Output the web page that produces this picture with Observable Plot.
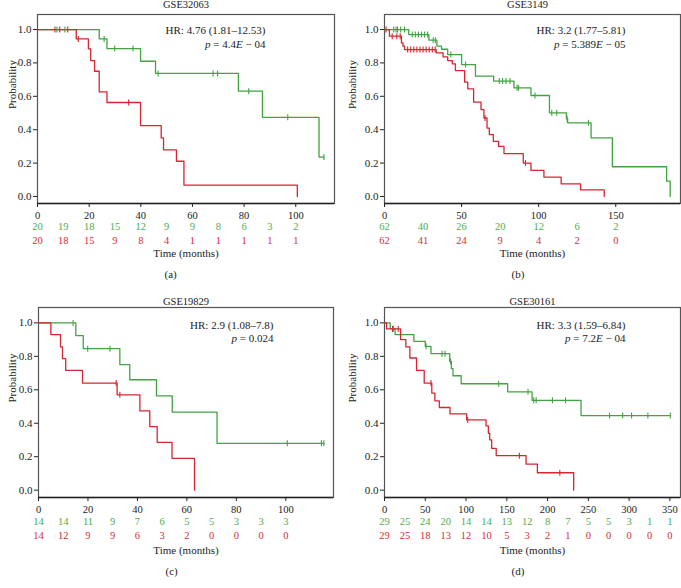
<!DOCTYPE html>
<html><head><meta charset="utf-8">
<script src="https://cdn.jsdelivr.net/npm/d3@7"></script>
<script src="https://cdn.jsdelivr.net/npm/@observablehq/plot@0.6"></script>
<style>
body{margin:0;background:#fff;}
#fig{position:relative;width:681px;height:588px;overflow:hidden;background:#fff;font-family:"Liberation Serif",serif;}
.panel{position:absolute;}
.panel svg{overflow:visible;font-family:"Liberation Serif",serif;}
.panel svg text{font-family:"Liberation Serif",serif;}
</style></head><body><div id="fig"></div>
<script>
const GREEN = "#41a441", RED = "#d7262f", GREEN_TXT = "#4cae4c", RED_TXT = "#db2a35";
const FONT = "'Liberation Serif', serif";

// ---- Panel (a) GSE32063 ----
const aTitle = "GSE32063";
const aHR = "HR: 4.76 (1.81–12.53)";
const aP = "p = 4.4E − 04";
const aTicks = [0, 20, 40, 60, 80, 100];
const aRiskAt = [0, 10, 20, 30, 40, 50, 60, 70, 80, 90, 100];
const aRiskGreen = [20, 19, 18, 15, 12, 9, 9, 8, 6, 3, 2];
const aRiskRed = [20, 18, 15, 9, 8, 4, 1, 1, 1, 1, 1];
const aGreenT = [0, 23.9, 26.9, 39.9, 45.7, 77.8, 87.1, 109, 110.9];
const aGreenS = [1, 0.944, 0.886, 0.81, 0.737, 0.631, 0.474, 0.236, 0.236];
const aGreenC = [7.5, 10.6, 25.8, 29.9, 37, 46.7, 68, 69.7, 81.8, 96.9, 110.9];
const aRedT = [0, 15, 19.7, 20.6, 22.1, 23.9, 26.9, 39.9, 47.9, 48.8, 53.8, 56.7, 100.6];
const aRedS = [1, 0.944, 0.884, 0.814, 0.75, 0.627, 0.563, 0.425, 0.351, 0.279, 0.211, 0.068, 0];
const aRedC = [6.75, 8.6, 11.7, 15.8, 35.3];

// ---- Panel (b) GSE3149 ----
const bTitle = "GSE3149";
const bHR = "HR: 3.2 (1.77–5.81)";
const bP = "p = 5.389E − 05";
const bTicks = [0, 50, 100, 150];
const bRiskAt = [0, 25, 50, 75, 100, 125, 150];
const bRiskGreen = [62, 40, 26, 20, 12, 6, 2];
const bRiskRed = [62, 41, 24, 9, 4, 2, 0];
const bGreenT = [0, 15.7, 28.8, 34, 37, 41, 50, 59, 70.8, 84, 95, 107, 118, 118.8, 134, 147.8, 183, 185.3];
const bGreenS = [1, 0.97, 0.936, 0.9, 0.882, 0.85, 0.79, 0.721, 0.691, 0.651, 0.605, 0.501, 0.467, 0.441, 0.351, 0.178, 0.092, 0];
const bGreenC = [6, 7.5, 8.5, 10.5, 13, 18, 20, 22, 24, 26, 28, 31.6, 33, 43, 52.6, 74.5, 76.6, 78.8, 81.4, 86, 87, 97.6, 108.5, 111.7, 118.4, 132.3];
const bRedT = [0, 3.2, 11, 12, 13, 33.5, 38, 41, 44, 46, 52, 54, 57.8, 62.6, 64.5, 66.5, 68, 70.6, 74, 77.5, 90, 95, 103.4, 114.6, 127.2, 142.5];
const bRedS = [1, 0.96, 0.92, 0.9, 0.88, 0.86, 0.836, 0.814, 0.794, 0.754, 0.685, 0.645, 0.565, 0.52, 0.47, 0.41, 0.37, 0.33, 0.3, 0.257, 0.2, 0.156, 0.116, 0.076, 0.04, 0];
const bRedC = [1, 5, 8, 10.2, 15, 17, 19, 21, 23, 25, 27, 29, 31, 32.9, 65.2, 91.4];

// ---- Panel (c) GSE19829 ----
const cTitle = "GSE19829";
const cHR = "HR: 2.9 (1.08–7.8)";
const cP = "p = 0.024";
const cTicks = [0, 20, 40, 60, 80, 100];
const cRiskAt = [0, 10, 20, 30, 40, 50, 60, 70, 80, 90, 100];
const cRiskGreen = [14, 14, 11, 9, 7, 6, 5, 5, 3, 3, 3];
const cRiskRed = [14, 12, 9, 9, 6, 3, 2, 0, 0, 0, 0];
const cGreenT = [0, 15.1, 18.1, 32.9, 36.9, 47.7, 54.1, 72.2, 115.4];
const cGreenS = [1, 0.924, 0.846, 0.75, 0.66, 0.564, 0.466, 0.28, 0.28];
const cGreenC = [14, 19.9, 28.9, 100.6, 114.4, 115.4];
const cRedT = [0, 5, 8.9, 9.7, 11, 17.8, 31.8, 41, 45, 48, 54, 63.1];
const cRedS = [1, 0.93, 0.856, 0.786, 0.716, 0.64, 0.57, 0.474, 0.38, 0.286, 0.19, 0];
const cRedC = [31.4, 32.9];

// ---- Panel (d) GSE30161 ----
const dTitle = "GSE30161";
const dHR = "HR: 3.3 (1.59–6.84)";
const dP = "p = 7.2E − 04";
const dTicks = [0, 50, 100, 150, 200, 250, 300, 350];
const dRiskAt = [0, 25, 50, 75, 100, 125, 150, 175, 200, 225, 250, 275, 300, 325, 350];
const dRiskGreen = [29, 25, 24, 20, 14, 14, 13, 12, 8, 7, 5, 5, 3, 1, 1];
const dRiskRed = [29, 25, 18, 13, 12, 10, 5, 3, 2, 1, 0, 0, 0, 0, 0];
const dGreenT = [0, 7, 13, 36, 50, 57, 80, 82, 84, 94, 151, 181, 241, 350.5];
const dGreenS = [1, 0.966, 0.93, 0.89, 0.86, 0.816, 0.77, 0.726, 0.684, 0.636, 0.588, 0.537, 0.446, 0.446];
const dGreenC = [11, 51, 70.6, 74.2, 81, 140, 176, 183, 186, 206, 222, 276, 292, 303, 323, 350.5];
const dRedT = [0, 2.5, 19.7, 26.2, 31.1, 39.3, 48.7, 58, 61.8, 67.2, 80.3, 100.7, 124.5, 127.4, 129, 131.4, 137, 173.6, 187.5, 232];
const dRedS = [1, 0.964, 0.9, 0.856, 0.79, 0.716, 0.64, 0.58, 0.534, 0.494, 0.456, 0.42, 0.384, 0.34, 0.3, 0.25, 0.206, 0.156, 0.104, 0];
const dRedC = [9.9, 16.8, 57, 102, 165.4, 215];

function zip(T, S) { return T.map((t, i) => ({t, s: S[i]})); }
function survAt(t, T, S) { let v = S[0]; for (let i = 0; i < T.length; i++) if (T[i] <= t) v = S[i]; return v; }
function cens(C, T, S) { return C.map(t => ({t, s: survAt(t, T, S)})); }
const vtick = {draw(ctx, size) { const h = Math.sqrt(size / Math.PI); ctx.moveTo(0, -h); ctx.lineTo(0, h); }};

function panel(p) {
  const fs = 11, fr = 10.5;
  const marks = [
    Plot.frame({stroke: "#555", strokeWidth: 1.2}),
    Plot.ruleY([p.yDomain[0]], {stroke: "#222", strokeWidth: 1.6}),
    Plot.axisY({ticks: [0, 0.2, 0.4, 0.6, 0.8, 1.0], tickFormat: d => d.toFixed(1), tickSize: 4, tickPadding: 2, label: null, fontSize: fs, fontFamily: FONT}),
    Plot.axisX({ticks: p.ticks, tickFormat: d => String(d), tickSize: 4, tickPadding: 4, label: null, fontSize: fr, fontFamily: FONT}),
    Plot.line(zip(p.gT, p.gS), {x: "t", y: "s", curve: "step-after", stroke: GREEN, strokeWidth: 1.3}),
    Plot.line(zip(p.rT, p.rS), {x: "t", y: "s", curve: "step-after", stroke: RED, strokeWidth: 1.3}),
    Plot.dot(cens(p.gC, p.gT, p.gS), {x: "t", y: "s", symbol: vtick, r: 3, stroke: GREEN, strokeWidth: 1.1, fill: "none"}),
    Plot.dot(cens(p.rC, p.rT, p.rS), {x: "t", y: "s", symbol: vtick, r: 3, stroke: RED, strokeWidth: 1.1, fill: "none"}),
    Plot.text(p.riskAt, {x: d => d, text: (d, i) => String(p.riskG[i]), frameAnchor: "bottom", dy: p.dyG, fill: GREEN_TXT, fontSize: fr, fontFamily: FONT}),
    Plot.text(p.riskAt, {x: d => d, text: (d, i) => String(p.riskR[i]), frameAnchor: "bottom", dy: p.dyR, fill: RED_TXT, fontSize: fr, fontFamily: FONT}),
    Plot.text(["Time (months)"], {frameAnchor: "bottom", dy: p.dyT, fontSize: fs, fill: "#222", fontFamily: FONT}),
    Plot.text([p.label], {frameAnchor: "bottom-left", dx: 127, dy: p.dyL, fontSize: fs, fill: "#222", fontFamily: FONT}),
    Plot.text([p.title], {frameAnchor: "top", dx: p.titleDx, dy: p.dyTitle, fontSize: 10.5, fill: "#222", fontFamily: FONT}),
    Plot.text(["Probability"], {frameAnchor: "left", rotate: -90, dx: p.dxProb, fontSize: fs, fill: "#222", fontFamily: FONT}),
    Plot.text([p.hr], {frameAnchor: "top-right", dx: p.hrDx, dy: p.hrDy1, fontSize: fs, fill: "#222", fontFamily: FONT}),
    Plot.text([p.p], {frameAnchor: "top-right", dx: p.hrDx, dy: p.hrDy2, fontSize: fs, fill: "#222", fontFamily: FONT})
  ];
  const svg = Plot.plot({
    width: p.width, height: p.height,
    marginLeft: p.ml, marginRight: p.mr, marginTop: p.mt, marginBottom: p.mb,
    x: {domain: [0, p.xMax]},
    y: {domain: p.yDomain},
    style: {fontFamily: FONT, fontSize: "11px", color: "#222", background: "transparent", overflow: "visible"},
    marks
  });
  svg.querySelectorAll("text").forEach(el => {
    const s = el.textContent;
    if (s.startsWith("p = ")) {
      while (el.firstChild) el.removeChild(el.firstChild);
      el.setAttribute("style", "white-space:pre");
      const rest = s.slice(1).split("E");
      const parts = [["p", true], [rest[0], false]];
      if (rest.length > 1) { parts.push(["E", true]); parts.push([rest[1], false]); }
      for (const [txt, it] of parts) {
        const ts = document.createElementNS("http://www.w3.org/2000/svg", "tspan");
        ts.textContent = txt;
        if (it) ts.setAttribute("font-style", "italic");
        el.appendChild(ts);
      }
    }
  });
  const div = document.createElement("div");
  div.className = "panel";
  div.style.left = p.left + "px";
  div.style.top = p.top + "px";
  div.appendChild(svg);
  document.getElementById("fig").appendChild(div);
}

const topRow = {top: 0, height: 290, mt: 14, mb: 87, yDomain: [-0.042, 1.09], dyG: 26.5, dyR: 40, dyT: 53.5, dyL: 74, dyTitle: -14, hrDy1: 12, hrDy2: 26};
const botRow = {top: 290, height: 298, mt: 17, mb: 91, yDomain: [-0.044, 1.092], dyG: 27, dyR: 41.5, dyT: 56, dyL: 77, dyTitle: -9.5, hrDy1: 13.4, hrDy2: 26.5};

panel({...topRow, left: 0, width: 340, ml: 37, mr: 6, xMax: 115, ticks: aTicks, riskAt: aRiskAt, riskG: aRiskGreen, riskR: aRiskRed,
  gT: aGreenT, gS: aGreenS, gC: aGreenC, rT: aRedT, rS: aRedS, rC: aRedC, title: aTitle, hr: aHR, p: aP, label: "(a)", dxProb: -25, hrDx: -69, titleDx: 0});
panel({...topRow, left: 340, width: 341, ml: 44, mr: 1, xMax: 192, ticks: bTicks, riskAt: bRiskAt, riskG: bRiskGreen, riskR: bRiskRed,
  gT: bGreenT, gS: bGreenS, gC: bGreenC, rT: bRedT, rS: bRedS, rC: bRedC, title: bTitle, hr: bHR, p: bP, label: "(b)", dxProb: -31.6, hrDx: -55, titleDx: -5});
panel({...botRow, left: 0, width: 340, ml: 38, mr: 7, xMax: 119.3, ticks: cTicks, riskAt: cRiskAt, riskG: cRiskGreen, riskR: cRiskRed,
  gT: cGreenT, gS: cGreenS, gC: cGreenC, rT: cRedT, rS: cRedS, rC: cRedC, title: cTitle, hr: cHR, p: cP, label: "(c)", dxProb: -26, hrDx: -60, titleDx: 0});
panel({...botRow, left: 340, width: 341, ml: 44, mr: 1, xMax: 363, ticks: dTicks, riskAt: dRiskAt, riskG: dRiskGreen, riskR: dRiskRed,
  gT: dGreenT, gS: dGreenS, gC: dGreenC, rT: dRedT, rS: dRedS, rC: dRedC, title: dTitle, hr: dHR, p: dP, label: "(d)", dxProb: -31.6, hrDx: -55, titleDx: 0});
</script>
</body></html>
